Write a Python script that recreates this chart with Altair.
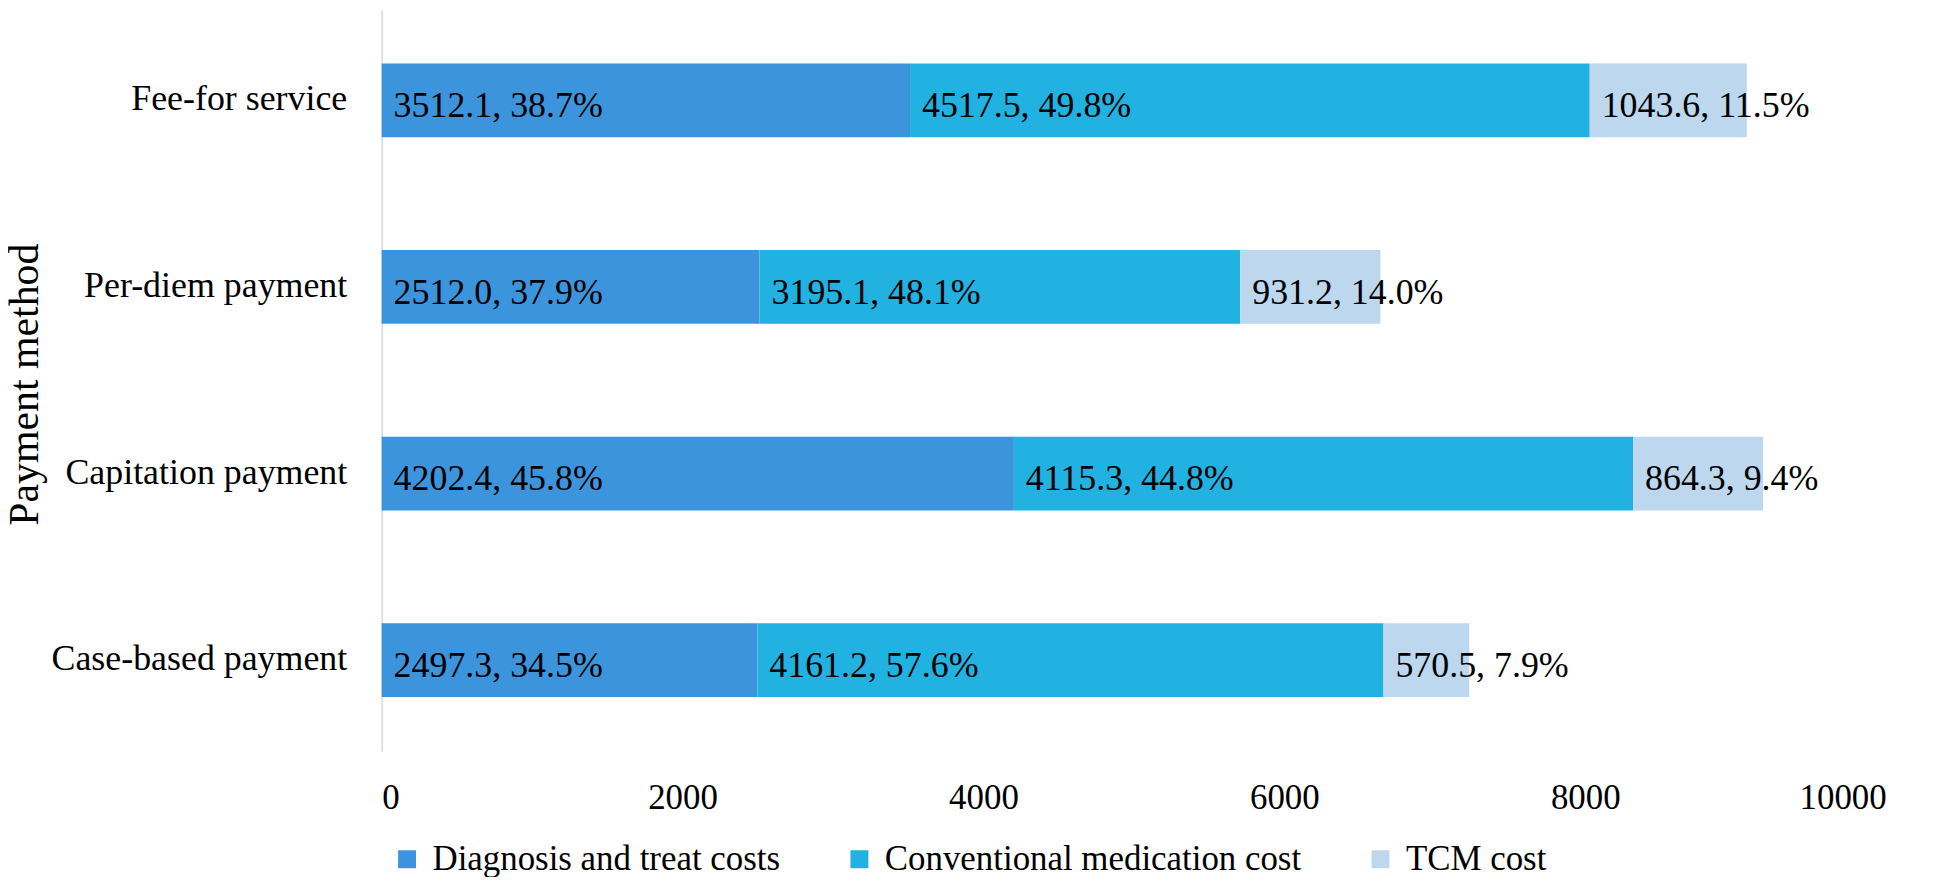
import altair as alt
import pandas as pd

methods = ["Fee-for service", "Per-diem payment", "Capitation payment", "Case-based payment"]
components = ["Diagnosis and treat costs", "Conventional medication cost", "TCM cost"]
colors = ["#3c94dd", "#21b2e2", "#bdd7ee"]

diagnosis = [3512.1, 2512.0, 4202.4, 2497.3]
conventional = [4517.5, 3195.1, 4115.3, 4161.2]
tcm = [1043.6, 931.2, 864.3, 570.5]

diagnosis_pct = [38.7, 37.9, 45.8, 34.5]
conventional_pct = [49.8, 48.1, 44.8, 57.6]
tcm_pct = [11.5, 14.0, 9.4, 7.9]

x_ticks = [0, 2000, 4000, 6000, 8000, 10000]

rows = []
for i, m in enumerate(methods):
    for j, (vals, pcts) in enumerate([(diagnosis, diagnosis_pct),
                                      (conventional, conventional_pct),
                                      (tcm, tcm_pct)]):
        rows.append({
            "method": m,
            "component": components[j],
            "order": j,
            "value": vals[i],
            "label": f"{vals[i]:.1f}, {pcts[i]:.1f}%",
        })
df = pd.DataFrame(rows)

FONT = "Liberation Serif"

base = alt.Chart(df).transform_stack(
    stack="value", groupby=["method"], as_=["x0", "x1"],
    sort=[alt.SortField("order", order="ascending")]
)

y_enc = alt.Y(
    "method:N", sort=methods, title="Payment method",
    scale=alt.Scale(paddingInner=0.605, paddingOuter=0.2885),
    axis=alt.Axis(
        ticks=False, tickSize=0, labelPadding=35, labelFontSize=36, labelFont=FONT,
        labelColor="#000000", labelBaseline="alphabetic", labelOffset=10,
        labelLimit=1000,
        domainColor="#d9d9d9", domainWidth=1.5,
        titleFont=FONT, titleFontSize=42, titleFontWeight="normal", titleColor="#000000",
        titleAngle=270, titleBaseline="alphabetic", titleAlign="center",
        titleX=-345, titleY=376, grid=False,
    ),
)

x_scale = alt.Scale(domain=[0, 10000], nice=False, zero=True)

bars = base.mark_bar().encode(
    x=alt.X("x0:Q", scale=x_scale, title=None,
            axis=alt.Axis(values=x_ticks, domain=False, ticks=False, tickSize=0,
                          grid=False, labelFontSize=35, labelFont=FONT,
                          labelColor="#000000", labelBaseline="alphabetic",
                          labelPadding=58, format="d")),
    x2="x1:Q",
    y=y_enc,
    color=alt.Color(
        "component:N", sort=components,
        scale=alt.Scale(domain=components, range=colors),
        legend=alt.Legend(
            title=None, orient="none", direction="horizontal",
            legendX=8, legendY=835, padding=0,
            symbolType="square", symbolSize=324, symbolStrokeWidth=0,
            labelFont=FONT, labelFontSize=35, labelColor="#000000",
            labelOffset=8, columnPadding=62, labelLimit=1000,
        ),
    ),
    order=alt.Order("order:Q"),
)

labels = base.mark_text(
    align="left", baseline="alphabetic", dx=12, dy=17,
    font=FONT, fontSize=36, color="#000000",
).encode(
    x=alt.X("x0:Q", scale=x_scale),
    y=alt.Y("method:N", sort=methods),
    text="label:N",
)

chart = alt.layer(bars, labels).properties(
    width=1510, height=744,
    autosize=alt.AutoSizeParams(type="none"),
    padding={"left": 375, "top": 0, "right": 50, "bottom": 125},
    background="#ffffff",
).configure_view(strokeWidth=0, strokeOpacity=0)

chart.save("out.html", embed_options={"renderer": "svg", "actions": False})
